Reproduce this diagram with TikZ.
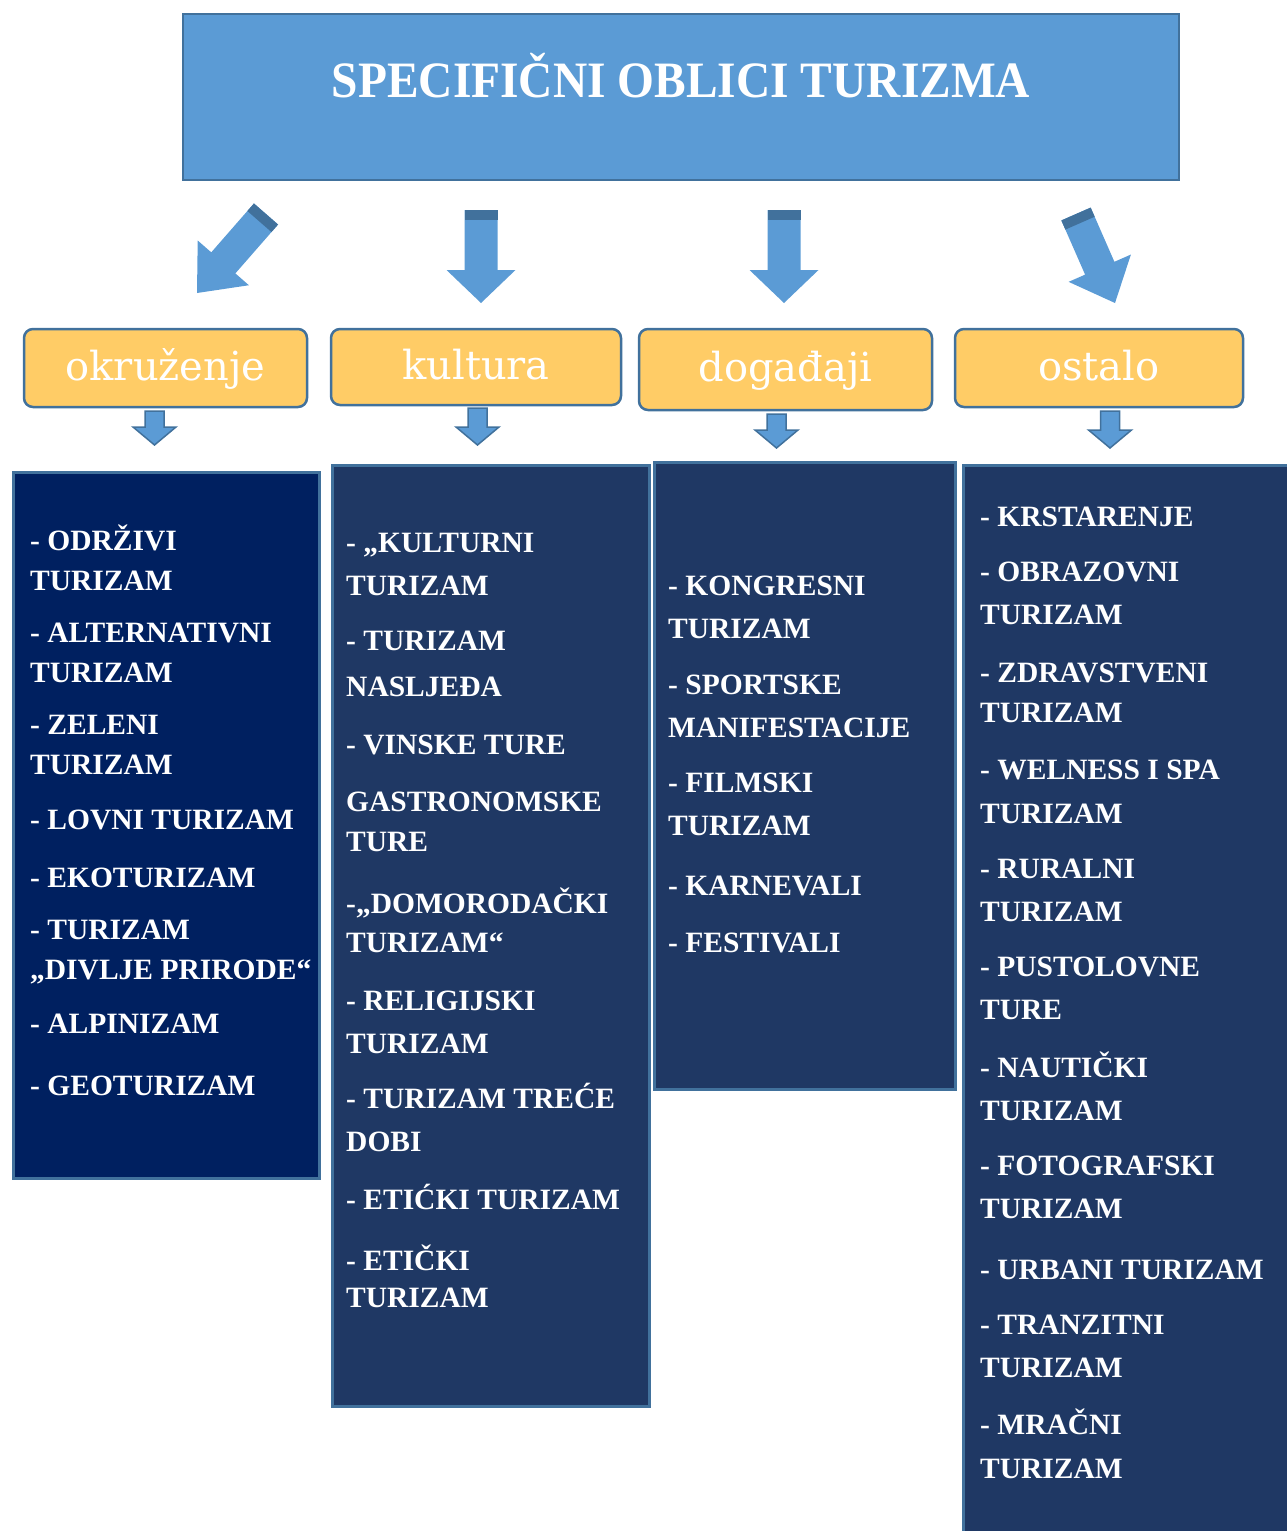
\documentclass[tikz,border=0pt]{standalone}
\usepackage{fontspec}
\setmainfont{Liberation Serif}
\newfontfamily\titlefont[FakeStretch=0.93]{Liberation Serif}
\newfontfamily\catfont{DejaVu Serif}
\usetikzlibrary{calc}
\definecolor{tblue}{HTML}{5B9BD5}
\definecolor{bdark}{HTML}{41719C}
\definecolor{orng}{HTML}{FFCC66}
\definecolor{navyA}{HTML}{002060}
\definecolor{navyB}{HTML}{1F3864}
\newcommand\myblockarrow[6]{%
  \coordinate (hb) at ($(#3)!#6!(#2)$);
  \path[#1] ($(#2)!#4!90:(#3)$) -- ($(hb)!#4!90:(#3)$) -- ($(hb)!#5!90:(#3)$) -- (#3)
    -- ($(hb)!#5!-90:(#3)$) -- ($(hb)!#4!-90:(#3)$) -- ($(#2)!#4!-90:(#3)$) -- cycle;
}
\newcommand\mytailband[3]{%
  \coordinate (tb) at ($(#1)!10pt!(#2)$);
  \fill[bdark] ($(#1)!#3!90:(#2)$) -- ($(tb)!#3!90:(#2)$) -- ($(tb)!#3!-90:(#2)$) -- ($(#1)!#3!-90:(#2)$) -- cycle;
}
\begin{document}
\begin{tikzpicture}[x=1pt,y=-1pt,
  titlebox/.style={draw=bdark,line width=2.5pt,fill=tblue,minimum width=996pt,minimum height=166pt,inner sep=0pt},
  titletxt/.style={text=white,font=\titlefont\bfseries\fontsize{51}{60}\selectfont,inner sep=0pt},
  catbox/.style={draw=bdark,line width=2.5pt,fill=orng,rounded corners=9pt,inner sep=0pt,
     text=white,font=\catfont\fontsize{40}{46}\selectfont,text height=30pt,text depth=6pt},
  listbox/.style={draw=bdark,line width=3pt,anchor=north west,inner sep=0pt},
  item/.style={text=white,font=\bfseries\fontsize{29.5}{34}\selectfont,anchor=base west,inner sep=0pt},
  bigarr/.style={fill=tblue},
  smallarr/.style={fill=tblue,draw=bdark,line width=1.5pt}]
\useasboundingbox (0,0) rectangle (1287,1531);

% title
\node[titlebox] (title) at (681,97) {};
\node[titletxt] (ttext) at ($(title.center)+(0,-21)$) {SPECIFIČNI OBLICI TURIZMA};

% big arrows
\coordinate (a1t) at (266,214); \coordinate (a1p) at (197,293);
\coordinate (a2t) at (481,210); \coordinate (a2p) at (481,303);
\coordinate (a3t) at (784,210); \coordinate (a3p) at (784,303);
\coordinate (a4t) at (1076,214); \coordinate (a4p) at (1115,303);
\myblockarrow{bigarr}{a1t}{a1p}{16pt}{34pt}{40pt}
\mytailband{a1t}{a1p}{16pt}
\myblockarrow{bigarr}{a2t}{a2p}{16.5pt}{34.5pt}{33pt}
\mytailband{a2t}{a2p}{16.5pt}
\myblockarrow{bigarr}{a3t}{a3p}{16.5pt}{34.5pt}{33pt}
\mytailband{a3t}{a3p}{16.5pt}
\myblockarrow{bigarr}{a4t}{a4p}{16pt}{34pt}{38pt}
\mytailband{a4t}{a4p}{16pt}

% category boxes
\node[catbox,minimum width=283pt,minimum height=78pt] (c1) at (165.5,368) {okruženje};
\node[catbox,minimum width=290pt,minimum height=76pt] (c2) at (476,367) {kultura};
\node[catbox,minimum width=293pt,minimum height=81pt] (c3) at (785.5,369.5) {događaji};
\node[catbox,minimum width=288pt,minimum height=78pt] (c4) at (1099,368) {ostalo};

% small arrows
\coordinate (s1t) at (154.5,411); \coordinate (s1p) at (154.5,445);
\coordinate (s2t) at (477.5,408); \coordinate (s2p) at (477.5,445);
\coordinate (s3t) at (776.5,414); \coordinate (s3p) at (776.5,448);
\coordinate (s4t) at (1110,411); \coordinate (s4p) at (1110,448);
\myblockarrow{smallarr}{s1t}{s1p}{9.5pt}{21.5pt}{18pt}
\myblockarrow{smallarr}{s2t}{s2p}{9.5pt}{21.5pt}{18pt}
\myblockarrow{smallarr}{s3t}{s3p}{9.5pt}{21.5pt}{18pt}
\myblockarrow{smallarr}{s4t}{s4p}{9.5pt}{21.5pt}{18pt}

% list boxes
\node[listbox,fill=navyA,minimum width=306pt,minimum height=706pt] (colA) at (12,471) {};
\node[listbox,fill=navyB,minimum width=317pt,minimum height=941pt] (colB) at (331,464) {};
\node[listbox,fill=navyB,minimum width=301pt,minimum height=627pt] (colC) at (653,461) {};
\node[listbox,fill=navyB,minimum width=340pt,minimum height=1085pt] (colD) at (962,464) {};

\foreach \t/\yy [count=\i] in {- ODRŽIVI/540, TURIZAM/580, - ALTERNATIVNI/632, TURIZAM/672,
  - ZELENI/724, TURIZAM/764, - LOVNI TURIZAM/819, - EKOTURIZAM/877, - TURIZAM/929,
  „DIVLJE PRIRODE“/969, - ALPINIZAM/1023, - GEOTURIZAM/1085}
  \node[item] (ta\i) at (30,\yy+10) {\t};

\foreach \t/\yy [count=\i] in {- „KULTURNI/542, TURIZAM/585, - TURIZAM/640, NASLJEĐA/686,
  - VINSKE TURE/744, GASTRONOMSKE/801, TURE/841, -„DOMORODAČKI/903, TURIZAM“/942,
  - RELIGIJSKI/1000, TURIZAM/1043, - TURIZAM TREĆE/1098, DOBI/1141,
  - ETIĆKI TURIZAM/1199, - ETIČKI/1260, TURIZAM/1297}
  \node[item] (tb\i) at (346,\yy+10) {\t};

\foreach \t/\yy [count=\i] in {- KONGRESNI/585, TURIZAM/628, - SPORTSKE/684, MANIFESTACIJE/727,
  - FILMSKI/782, TURIZAM/825, - KARNEVALI/885, - FESTIVALI/942}
  \node[item] (tc\i) at (668,\yy+10) {\t};

\foreach \t/\yy [count=\i] in {- KRSTARENJE/516, - OBRAZOVNI/571, TURIZAM/614, - ZDRAVSTVENI/672,
  TURIZAM/712, - WELNESS I SPA/769, TURIZAM/813, - RURALNI/868, TURIZAM/911,
  - PUSTOLOVNE/966, TURE/1009, - NAUTIČKI/1067, TURIZAM/1110, - FOTOGRAFSKI/1165,
  TURIZAM/1208, - URBANI TURIZAM/1269, - TRANZITNI/1324, TURIZAM/1367, - MRAČNI/1424,
  TURIZAM/1468}
  \node[item] (td\i) at (980,\yy+10) {\t};
\end{tikzpicture}
\end{document}
